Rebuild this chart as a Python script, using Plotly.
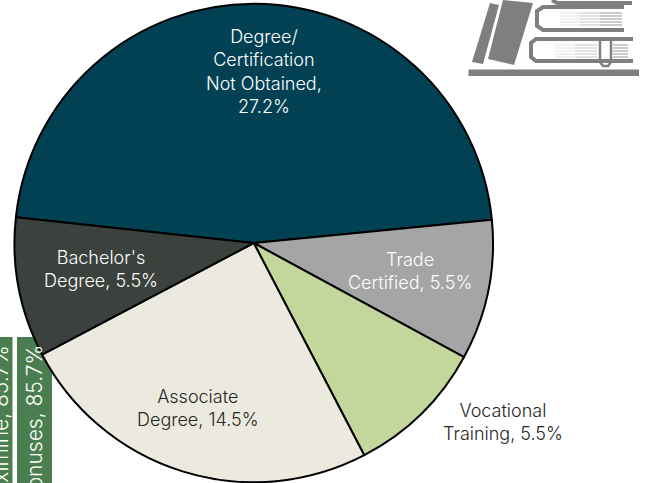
import plotly.graph_objects as go

W, H = 651, 483
categories = ["Degree/Certification Not Obtained", "Trade Certified", "Vocational Training",
              "Associate Degree", "Bachelor's Degree"]
values = [27.2, 5.5, 5.5, 14.5, 5.5]
colors = ["#024154", "#A5A5A5", "#C3D69B", "#ECEADF", "#3B413D"]

labels = [
    ("Degree/<br>Certification<br>Not Obtained,<br>27.2%", 264, 71, "#FFFFFF"),
    ("Trade<br>Certified, 5.5%", 410, 271, "#FFFFFF"),
    ("Vocational<br>Training, 5.5%", 503, 422, "#262626"),
    ("Associate<br>Degree, 14.5%", 198, 408, "#262626"),
    ("Bachelor's<br>Degree, 5.5%", 101, 269, "#FFFFFF"),
]
bar_labels = [("Proximine, 85.7%", 0, 337), ("Bonuses, 85.7%", 34, 337)]
FONT = "Inter"
GREY = "#7F7F7F"

def X(x): return x / W
def Y(y): return 1 - y / H
def P(pts, close=True):
    s = "M " + " L ".join(f"{X(x):.5f} {Y(y):.5f}" for x, y in pts)
    return s + (" Z" if close else "")

fig = go.Figure(go.Pie(
    labels=categories, values=values, sort=False, direction="clockwise", rotation=276.2,
    marker=dict(colors=colors, line=dict(color="#000000", width=2)),
    textinfo="none", hoverinfo="label+value", showlegend=False,
    domain=dict(x=[14.5 / W, 493 / W], y=[Y(482.5), Y(3.5)]),
))

shapes = []
def rect(x0, y0, x1, y1, color):
    shapes.append(dict(type="rect", xref="paper", yref="paper", x0=X(x0), x1=X(x1), y0=Y(y1), y1=Y(y0),
                       fillcolor=color, line=dict(width=0), layer="below"))
def poly(pts, color=GREY):
    shapes.append(dict(type="path", xref="paper", yref="paper", path=P(pts), fillcolor=color,
                       line=dict(width=0), layer="below"))
def stroke(pts, width=3.5, color=GREY):
    shapes.append(dict(type="path", xref="paper", yref="paper", path=P(pts, False),
                       line=dict(width=width, color=color), layer="below"))

rect(0, 337, 12.5, 483, "#4A7E50")
rect(17, 337, 52, 483, "#4A7E50")

# book-stack icon
rect(468.5, 69.5, 639, 76, GREY)
poly([(490, 3), (499, 5), (483, 64), (472, 62)])
poly([(503, 0), (533, 3), (514, 65), (488, 59)])
stroke([(624, 7), (543, 7), (537, 11), (537, 26), (543, 30), (624, 30)], 4)
stroke([(633, 39), (536, 39), (531, 43), (531, 57), (536, 61), (633, 61)], 4)
stroke([(552, 0), (557, 3), (632, 3)], 4)
for y in (13, 16, 19, 22, 25):
    for x0, x1, c in [(560, 580, "#E8E8E8"), (580, 600, "#CFCFCF"), (600, 622, "#A8A8A8")]:
        stroke([(x0, y), (x1, y)], 1.2, c)
for y in (45, 48, 51, 54, 57):
    for x0, x1, c in [(555, 575, "#E8E8E8"), (575, 597, "#CFCFCF")]:
        stroke([(x0, y), (x1, y)], 1.2, c)
    stroke([(613, y), (628, y)], 1.2, "#A8A8A8")
stroke([(600, 39), (600, 62), (603, 66), (608, 66), (611, 62), (611, 39)], 2.5)

annotations = [dict(text=t, x=X(x), y=Y(y), xref="paper", yref="paper", showarrow=False,
                    font=dict(family=FONT, size=18, color=c, weight=300), align="center",
                    xanchor="center", yanchor="middle")
               for t, x, y, c in labels]
for t, x, y in bar_labels:
    annotations.append(dict(text=t, x=X(x), y=Y(y + 6), xref="paper", yref="paper", showarrow=False,
                            font=dict(family=FONT, size=21, color="#FFFFFF", weight=300), textangle=-90,
                            xanchor="center", yanchor="top"))

fig.update_layout(width=W, height=H, margin=dict(l=0, r=0, t=0, b=0), paper_bgcolor="#FFFFFF",
                  shapes=shapes, annotations=annotations, showlegend=False)
fig.write_html("out.html", config={"displayModeBar": False},
               post_script="document.body.style.margin='0';document.documentElement.style.overflow='hidden';")
